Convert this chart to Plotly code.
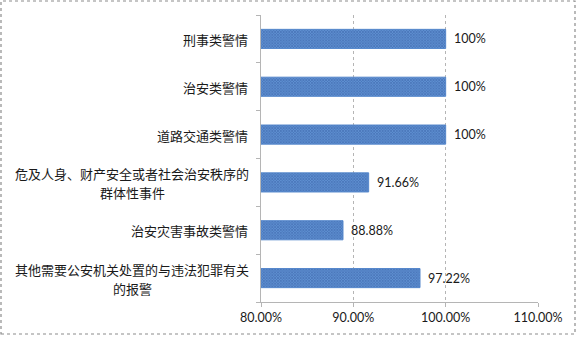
import plotly.graph_objects as go

# Alarm categories (top to bottom) and their handling rates in percent
categories = [
    "刑事类警情",
    "治安类警情",
    "道路交通类警情",
    "危及人身、财产安全或者社会治安秩序的<br>群体性事件",
    "治安灾害事故类警情",
    "其他需要公安机关处置的与违法犯罪有关<br>的报警",
]
rates = [100, 100, 100, 91.66, 88.88, 97.22]
x_ticks = [80, 90, 100, 110]
axis_min, axis_max = 80, 110

W, H = 577, 337
L, R, T, B = 261, 39, 15, 35
pw, ph = W - L - R, H - T - B

cjk = "Noto Sans CJK SC, Noto Sans, sans-serif"
latin = "Lato, Liberation Sans, sans-serif"
cjk_size = 13
line_gap = 19

# bars start at the left edge of the axis, so each bar's length is rate - axis_min
fig = go.Figure(
    go.Bar(
        x=[v - axis_min for v in rates],
        base=axis_min,
        y=list(range(len(categories))),
        orientation="h",
        width=0.4,
        marker=dict(
            color="#4373B8",
            line=dict(color="#5688CC", width=1),
            pattern=dict(shape="x", size=2, solidity=0.6,
                         fgcolor="#2A5599", bgcolor="#6090D2"),
        ),
        hoverinfo="skip",
    )
)

annotations = []
for i, (c, v) in enumerate(zip(categories, rates)):
    lines = c.split("<br>")
    # wrapped labels: each line centred under the widest (full-width glyphs)
    widest = max(len(s) for s in lines) * cjk_size
    n = len(lines)
    for k, s in enumerate(lines):
        shift = ((n - 1) / 2 - k) * line_gap
        common = dict(
            x=0, xref="paper", y=i, yref="y", text=s, showarrow=False,
            yanchor="middle", yshift=shift, height=16, borderpad=0,
            font=dict(family=cjk, size=cjk_size, color="#1a1a1a"),
        )
        if n == 1:
            annotations.append(dict(common, xanchor="right", xshift=-12))
        else:
            annotations.append(dict(common, xanchor="center",
                                    xshift=-12 - widest / 2))
    annotations.append(dict(
        x=v, xref="x", y=i, yref="y", text=f"{v:g}%", showarrow=False,
        xanchor="left", yanchor="middle", xshift=6,
        font=dict(family=latin, size=12.5, color="#1a1a1a"),
    ))

# outer chart frame
fx0 = (1 - L) / pw
fx1 = (575 - L) / pw
fy0 = (T + ph - 334) / ph
fy1 = (T + ph - 1) / ph

fig.update_layout(
    width=W, height=H,
    margin=dict(l=L, r=R, t=T, b=B),
    paper_bgcolor="white", plot_bgcolor="white",
    showlegend=False,
    annotations=annotations,
    shapes=[
        dict(type="rect", xref="paper", yref="paper",
             x0=fx0, x1=fx1, y0=fy0, y1=fy1,
             line=dict(color="#8c8c8c", width=1.2, dash="dot"), layer="below"),
    ],
    xaxis=dict(
        range=[axis_min, axis_max],
        tickvals=x_ticks,
        ticktext=[f"{t:.2f}%" for t in x_ticks],
        showgrid=True, gridcolor="#b5b5b5", griddash="dot", gridwidth=1,
        zeroline=False,
        showline=True, linecolor="#b5b5b5", linewidth=1,
        ticks="outside", ticklen=4, tickcolor="#b5b5b5",
        tickfont=dict(family=latin, size=12.5, color="#1a1a1a"),
    ),
    yaxis=dict(
        range=[5.5, -0.5],
        tickvals=[i - 0.5 for i in range(len(categories) + 1)],
        showticklabels=False,
        showgrid=False, zeroline=False,
        showline=True, linecolor="#b5b5b5", linewidth=1,
        ticks="outside", ticklen=4, tickcolor="#b5b5b5",
    ),
)

fig.write_html("out.html")
